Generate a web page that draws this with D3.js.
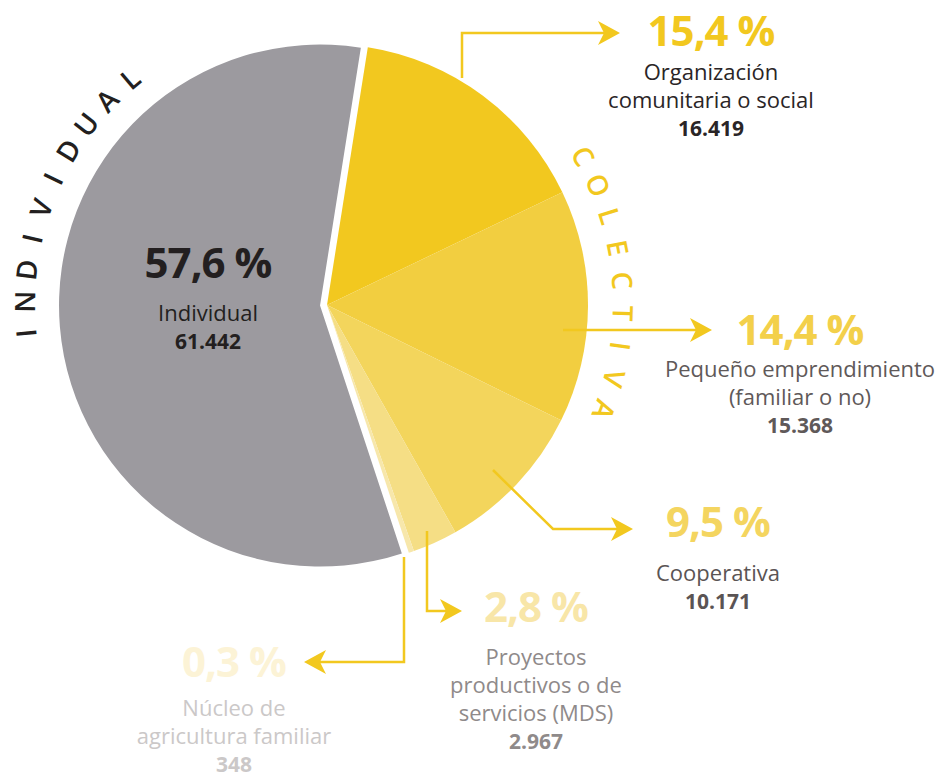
<!DOCTYPE html>
<html>
<head>
<meta charset="utf-8">
<script src="https://cdn.jsdelivr.net/npm/d3@7"></script>
<style>
  body { margin: 0; background: #fff; }
  svg { display: block; font-family: "Open Sans", "Noto Sans", sans-serif; }
</style>
</head>
<body>
<svg width="940" height="774"></svg>
<script>
// data
const categories = ["Organización comunitaria o social", "Pequeño emprendimiento (familiar o no)",
  "Cooperativa", "Proyectos productivos o de servicios (MDS)", "Núcleo de agricultura familiar", "Individual"];
const values = [16419, 15368, 10171, 2967, 348, 61442];
const percentLabels = ["15,4 %", "14,4 %", "9,5 %", "2,8 %", "0,3 %", "57,6 %"];
const valueLabels = ["16.419", "15.368", "10.171", "2.967", "348", "61.442"];
const nameLines = [["Organización", "comunitaria o social"], ["Pequeño emprendimiento", "(familiar o no)"],
  ["Cooperativa"], ["Proyectos", "productivos o de", "servicios (MDS)"], ["Núcleo de", "agricultura familiar"], ["Individual"]];
const groupNames = ["INDIVIDUAL", "COLECTIVA"];

// style
const sliceColors = ["#f2c81f", "#f2ce40", "#f3d55c", "#f5de85", "#f7e7ab", "#9c9a9f"];
const pctColors = ["#f2c81f", "#f3d04a", "#f4d560", "#f8e6a8", "#fcf3d6", "#231f20"];
const textColors = ["#2a2526", "#5f5959", "#5a5454", "#8f8a8a", "#cbc8c8", "#231f20"];
const numColors  = ["#2a2526", "#5f5959", "#5a5454", "#8f8a8a", "#cbc8c8", "#231f20"];

const svg = d3.select("svg");
const cx = 327, cy = 305, R = 261;
const deg = Math.PI / 180;

const pie = d3.pie().sort(null).value(d => d).startAngle(9 * deg).endAngle(369 * deg);
const arcs = pie(values);
const arc = d3.arc().innerRadius(0).outerRadius(R);

const g = svg.append("g").attr("transform", `translate(${cx},${cy})`);
g.selectAll("path.slice")
  .data(arcs)
  .join("path")
  .attr("class", "slice")
  .attr("fill", (d, i) => sliceColors[i])
  .attr("transform", (d, i) => {
    if (i !== 5) return null;
    const a = (d.startAngle + d.endAngle) / 2;
    return `translate(${7 * Math.sin(a)},${-7 * Math.cos(a)})`;
  })
  .attr("d", arc);

// leader lines (annotation layout)
const leaders = [
  { pts: [[462, 78], [462, 33], [620, 33]] },
  { pts: [[563, 330], [712, 330]] },
  { pts: [[493, 470], [553, 529], [633, 529]] },
  { pts: [[427, 531], [427, 611], [462, 611]] },
  { pts: [[404, 557], [404, 662], [304, 662]] }
];
const lineCol = "#f2c81f";
leaders.forEach(l => {
  const p = l.pts;
  const n = p.length;
  const a = Math.atan2(p[n - 1][1] - p[n - 2][1], p[n - 1][0] - p[n - 2][0]);
  const trimmed = p.slice(0, n - 1).concat([[p[n - 1][0] - 12 * Math.cos(a), p[n - 1][1] - 12 * Math.sin(a)]]);
  svg.append("path")
    .attr("d", d3.line()(trimmed))
    .attr("fill", "none")
    .attr("stroke", lineCol)
    .attr("stroke-width", 2.5);
  svg.append("path")
    .attr("d", "M0,0 L-22,-12 L-16,0 L-22,12 Z")
    .attr("fill", lineCol)
    .attr("transform", `translate(${p[n - 1][0]},${p[n - 1][1]}) rotate(${a / deg})`);
});

// labels
const labelPos = [[711, 46], [800, 345], [718, 537], [536, 622], [234, 677], [208, 278]];
const labelGap = [34, 32, 44, 43, 39, 43];
labelPos.forEach((pos, i) => {
  const t = svg.append("g").attr("text-anchor", "middle");
  t.append("text")
    .attr("x", pos[0]).attr("y", pos[1])
    .attr("font-size", 42).attr("font-weight", 700)
    .attr("letter-spacing", -1)
    .attr("fill", pctColors[i])
    .text(percentLabels[i]);
  let y = pos[1] + labelGap[i];
  nameLines[i].forEach(line => {
    t.append("text")
      .attr("x", pos[0]).attr("y", y)
      .attr("font-size", 22)
      .attr("fill", textColors[i])
      .text(line);
    y += 28;
  });
  t.append("text")
    .attr("x", pos[0]).attr("y", y)
    .attr("font-size", 21).attr("font-weight", 700)
    .attr("fill", numColors[i])
    .text(valueLabels[i]);
});

// group names along the rim
function rimText(str, ox, oy, r, a0, a1, color) {
  const chars = str.split("");
  const step = (a1 - a0) / (chars.length - 1);
  svg.append("g").selectAll("text")
    .data(chars)
    .join("text")
    .attr("text-anchor", "middle")
    .attr("dominant-baseline", "central")
    .attr("font-size", 28)
    .attr("font-weight", 600)
    .attr("fill", color)
    .attr("transform", (c, i) => {
      const a = (a0 + i * step);
      const x = ox + r * Math.sin(a * deg), y = oy - r * Math.cos(a * deg);
      return `translate(${x},${y}) rotate(${a})`;
    })
    .text(c => c);
}
rimText(groupNames[0], 320, 305, 296, 264.5, 320, "#231f20");
rimText(groupNames[1], 327, 305, 297, 59.8, 110.7, "#f2c81f");
</script>
</body>
</html>
